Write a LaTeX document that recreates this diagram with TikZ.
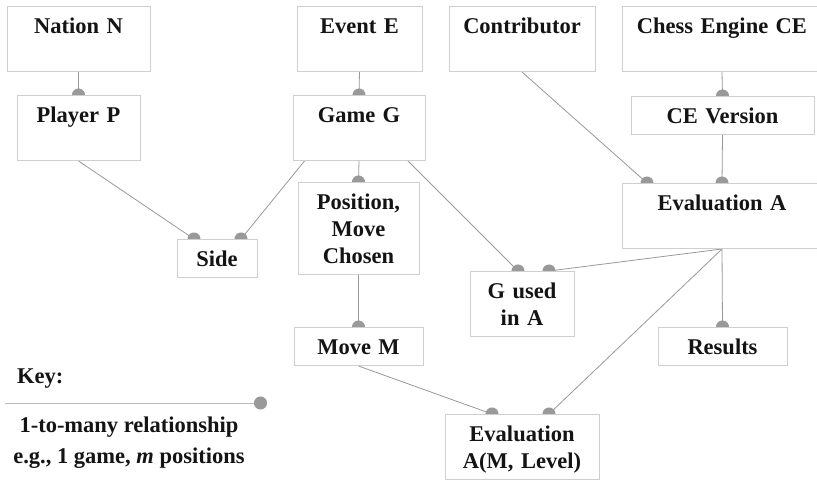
\documentclass[tikz,border=0pt]{standalone}
\usepackage{fontspec}
\setmainfont{Liberation Serif}
\usepackage{tikz}
\usetikzlibrary{arrows.meta,backgrounds}
\definecolor{boxgray}{HTML}{CFCFCF}
\definecolor{linkgray}{HTML}{999999}
\definecolor{keygray}{HTML}{BBBBBB}
\definecolor{ink}{HTML}{141414}
\newcommand{\entfont}{\fontsize{22.5}{27}\selectfont\bfseries}
\tikzset{
  entity/.style={draw=boxgray,fill=white,line width=1pt,anchor=north,
                 align=center,inner xsep=0pt,inner ysep=0pt,
                 text height=27pt,text depth=11pt,text=ink,font=\entfont},
  tallentity/.style={entity,text depth=38pt},
  onemany/.style={draw=linkgray,line width=0.8pt,
                  -{Circle[length=13pt]},shorten >=-6.5pt},
  keytext/.style={text=ink,font=\entfont,inner sep=0pt}
}
\begin{document}
\begin{tikzpicture}[x=1pt,y=1pt]
  \useasboundingbox (0,0) rectangle (817,480);
  % top row
  \node[tallentity,text width=143pt] (nation)  at (78.5,474) {Nation N};
  \node[tallentity,text width=125pt] (event)   at (359.5,474) {Event E};
  \node[tallentity,text width=146pt] (contrib) at (522,474) {Contributor};
  \node[tallentity,text width=200pt] (engine)  at (722,474) {Chess Engine CE};
  % second row
  \node[tallentity,text width=123pt] (player) at (78.5,385) {Player P};
  \node[tallentity,text width=132pt] (game)   at (359,385) {Game G};
  \node[entity,text width=183pt]     (cever)  at (722.5,384) {CE Version};
  % middle
  \node[entity,text width=121pt,text depth=65pt] (position) at (358.5,298)
    {Position,\\Move\\Chosen};
  \node[tallentity,text width=200pt] (evala) at (722,297) {Evaluation A};
  \node[entity,text width=80pt]      (side)  at (217,241) {Side};
  \node[tallentity,text width=104pt] (gused) at (522,209) {G used\\in A};
  % bottom
  \node[entity,text width=129pt] (movem)   at (358.5,153) {Move M};
  \node[entity,text width=129pt] (results) at (722.5,153) {Results};
  \node[tallentity,text width=154pt] (evalml) at (522,66)
    {Evaluation\\A(M, Level)};
  % key
  \node[keytext,anchor=base west] (keyhead) at (17,97) {Key:};
  \coordinate (keyL) at (5,77);
  \coordinate (keyR) at (267,77);
  \node[keytext,anchor=base] (keyrel) at (129,48) {1-to-many relationship};
  \node[keytext,anchor=base] (keyeg)  at (129,17)
    {e.g., 1 game, \textit{m} positions};
  \begin{scope}[on background layer]
    \fill[white] (0,0) rectangle (817,480);
    \draw[onemany] (nation.south) -- (player.north);
    \draw[onemany] (event.south) -- (game.north);
    \draw[onemany] (engine.south) -- (cever.north);
    \draw[onemany] (cever.south) -- (evala.north);
    \draw[onemany] (contrib.south) -- ([xshift=-75pt]evala.north);
    \draw[onemany] (player.south) -- ([xshift=-23pt]side.north);
    \draw[onemany] ([xshift=12pt]game.south west) -- ([xshift=24pt]side.north);
    \draw[onemany] (game.south) -- (position.north);
    \draw[onemany] ([xshift=49pt]game.south) -- ([xshift=-4pt]gused.north);
    \draw[onemany] (evala.south) -- ([xshift=27pt]gused.north);
    \draw[onemany] (evala.south) -- (results.north);
    \draw[onemany] (evala.south) -- ([xshift=27pt]evalml.north);
    \draw[onemany] (position.south) -- (movem.north);
    \draw[onemany] (movem.south) -- ([xshift=-30pt]evalml.north);
  \end{scope}
  \draw[draw=keygray,line width=1pt,-{Circle[length=13pt,color=linkgray]}]
    (keyL) -- (keyR);
\end{tikzpicture}
\end{document}
